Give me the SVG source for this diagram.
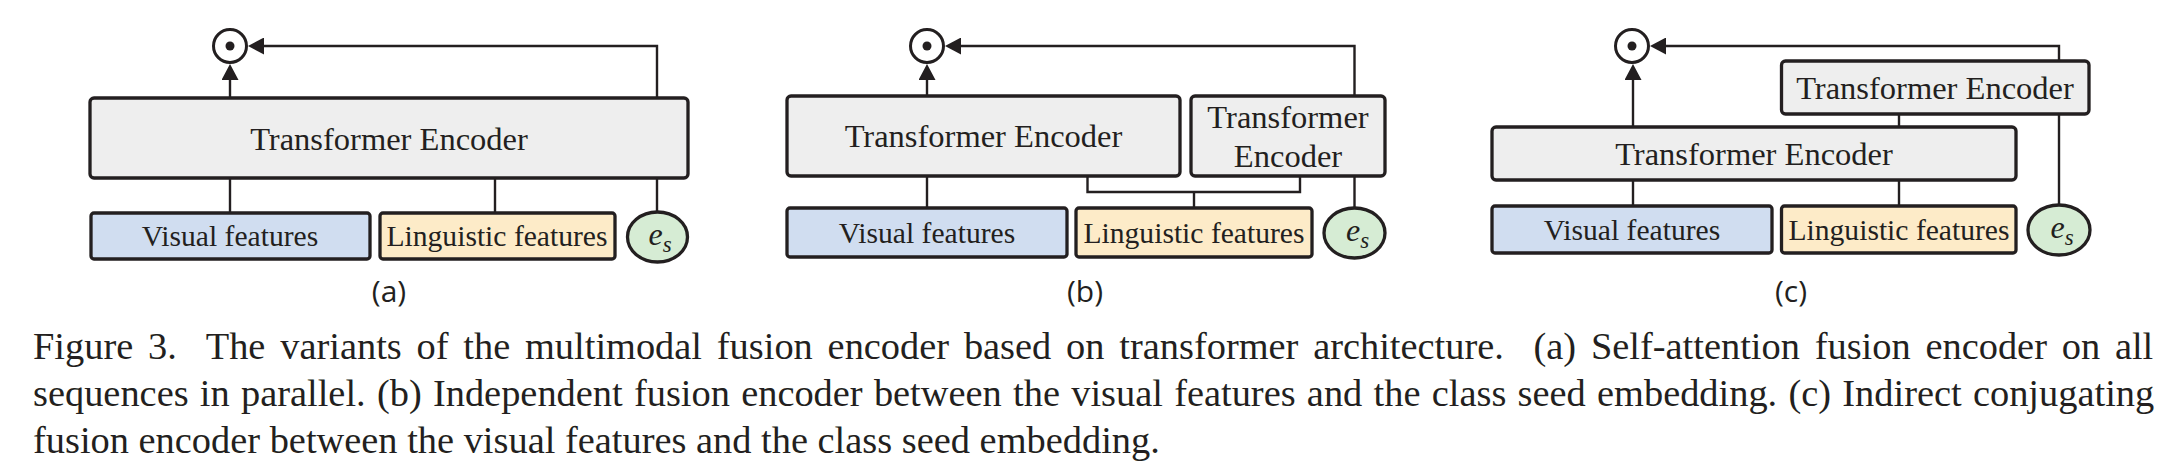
<svg xmlns="http://www.w3.org/2000/svg" width="2173" height="471" viewBox="0 0 2173 471">
<defs>
<style>
.enc{fill:#eeeeee;stroke:#231f20;stroke-width:3.3}
.vis{fill:#d0ddf0;stroke:#231f20;stroke-width:3.3}
.lin{fill:#fdebc8;stroke:#231f20;stroke-width:3.3}
.es{fill:#d6ecd4;stroke:#231f20;stroke-width:3.3}
.dotc{fill:#ffffff;stroke:#231f20;stroke-width:3}
.ln{fill:none;stroke:#231f20;stroke-width:2.4}
.t{font-family:"Liberation Serif","Times New Roman",serif;fill:#231f20;text-anchor:middle}
.te{font-size:32.5px}
.tf{font-size:29.6px}
.ti{font-family:"Liberation Serif","Times New Roman",serif;font-style:italic;fill:#231f20;font-size:32px;text-anchor:middle}
.lab{font-family:"Open Sans","Liberation Sans",sans-serif;font-size:30px;fill:#231f20;text-anchor:middle}
.cap{font-family:"Liberation Serif","Times New Roman",serif;font-size:38.4px;fill:#231f20}
</style>
<marker id="ah" viewBox="0 0 16 17" refX="0" refY="8.5" markerWidth="16" markerHeight="17" markerUnits="userSpaceOnUse" orient="auto">
<path d="M0,0 L16,8.5 L0,17 z" fill="#231f20"/>
</marker>
</defs>
<rect width="2173" height="471" fill="#ffffff"/>

<!-- Panel (a) -->
<g id="a-dot"><circle class="dotc" cx="230" cy="46" r="16.5"/><circle cx="230" cy="46" r="4.5" fill="#231f20"/></g>
<g id="a-encoder"><rect class="enc" x="90" y="98" width="598" height="80" rx="4"/><text class="t te" x="389" y="150">Transformer Encoder</text></g>
<g id="a-visual"><rect class="vis" x="91" y="213" width="279" height="46" rx="3"/><text class="t tf" x="230" y="246">Visual features</text></g>
<g id="a-linguistic"><rect class="lin" x="380" y="213" width="235" height="46" rx="3"/><text class="t tf" x="497" y="246">Linguistic features</text></g>
<g id="a-es"><ellipse class="es" cx="657.5" cy="237" rx="30" ry="25"/><text class="ti" x="660" y="245">e<tspan dy="7" font-size="23">s</tspan></text></g>
<text class="lab" x="389" y="302">(a)</text>

<!-- Panel (b) -->
<g id="b-dot"><circle class="dotc" cx="927" cy="46" r="16.5"/><circle cx="927" cy="46" r="4.5" fill="#231f20"/></g>
<g id="b-encoder1"><rect class="enc" x="787" y="96" width="393" height="80" rx="4"/><text class="t te" x="983.5" y="147">Transformer Encoder</text></g>
<g id="b-encoder2"><rect class="enc" x="1191" y="96" width="194" height="80" rx="4"/><text class="t te" x="1288" y="128">Transformer</text><text class="t te" x="1288" y="167">Encoder</text></g>
<g id="b-visual"><rect class="vis" x="787" y="208" width="280" height="49" rx="3"/><text class="t tf" x="927" y="243">Visual features</text></g>
<g id="b-linguistic"><rect class="lin" x="1076" y="208" width="236" height="49" rx="3"/><text class="t tf" x="1194" y="243">Linguistic features</text></g>
<g id="b-es"><ellipse class="es" cx="1354.5" cy="233" rx="30.5" ry="25"/><text class="ti" x="1357.5" y="241">e<tspan dy="7" font-size="23">s</tspan></text></g>
<text class="lab" x="1085" y="302">(b)</text>

<!-- Panel (c) -->
<g id="c-dot"><circle class="dotc" cx="1632" cy="46" r="16.5"/><circle cx="1632" cy="46" r="4.5" fill="#231f20"/></g>
<g id="c-encoder-top"><rect class="enc" x="1781.5" y="61" width="307.5" height="53" rx="4"/><text class="t te" x="1935" y="98.5">Transformer Encoder</text></g>
<g id="c-encoder-bottom"><rect class="enc" x="1492" y="127" width="524" height="53" rx="4"/><text class="t te" x="1754" y="164.5">Transformer Encoder</text></g>
<g id="c-visual"><rect class="vis" x="1492" y="206" width="280" height="47" rx="3"/><text class="t tf" x="1632" y="239.5">Visual features</text></g>
<g id="c-linguistic"><rect class="lin" x="1781.5" y="206" width="234.5" height="47" rx="3"/><text class="t tf" x="1899" y="239.5">Linguistic features</text></g>
<g id="c-es"><ellipse class="es" cx="2059" cy="230" rx="31" ry="25"/><text class="ti" x="2062" y="238">e<tspan dy="7" font-size="23">s</tspan></text></g>
<text class="lab" x="1791" y="302">(c)</text>

<g id="connectors">
<!-- (a) -->
<path class="ln" d="M230,98 V80" marker-end="url(#ah)"/>
<path class="ln" d="M657,98 V46 H264" marker-end="url(#ah)"/>
<path class="ln" d="M230,178 V213"/>
<path class="ln" d="M495,178 V213"/>
<path class="ln" d="M657,178 V212"/>
<!-- (b) -->
<path class="ln" d="M927,96 V80" marker-end="url(#ah)"/>
<path class="ln" d="M1354.5,96 V46 H961" marker-end="url(#ah)"/>
<path class="ln" d="M927,176 V208"/>
<path class="ln" d="M1087.5,176 V192 H1300 V176"/>
<path class="ln" d="M1194,192 V208"/>
<path class="ln" d="M1354.5,176 V208"/>
<!-- (c) -->
<path class="ln" d="M1633,127 V80" marker-end="url(#ah)"/>
<path class="ln" d="M2059,61 V46 H1666" marker-end="url(#ah)"/>
<path class="ln" d="M1633,180 V206"/>
<path class="ln" d="M1899,180 V206"/>
<path class="ln" d="M1899,114 V127"/>
<path class="ln" d="M2059,114 V205"/>
</g>

<g id="caption">
<text class="cap" x="33" y="359" xml:space="preserve" word-spacing="5.2">Figure 3.  The variants of the multimodal fusion encoder based on transformer architecture.  (a) Self-attention fusion encoder on all</text>
<text class="cap" x="33" y="406" word-spacing="1.65">sequences in parallel. (b) Independent fusion encoder between the visual features and the class seed embedding. (c) Indirect conjugating</text>
<text class="cap" x="33" y="453">fusion encoder between the visual features and the class seed embedding.</text>
</g>
</svg>
